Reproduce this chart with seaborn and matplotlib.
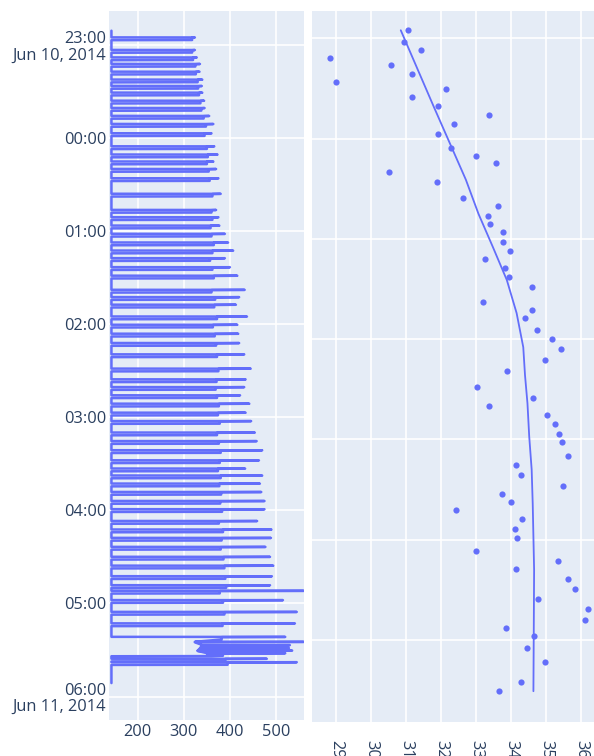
import numpy as np
import pandas as pd
import matplotlib
matplotlib.use("Agg")
import matplotlib.pyplot as plt
import matplotlib.dates as mdates
import seaborn as sns

# ---------------- left panel: zig-zag power trace over the night ----------------
T0 = pd.Timestamp("2014-06-10 23:00")
trace_start_min = -9.2      # minutes relative to 23:00
trace_end_min = 411.3
base_level = 143

# minute (relative to 23:00) at which each excursion starts
spike_min = [
    -4.9, 3.2, 8.0, 12.2, 17.2, 22.3, 26.4, 30.7, 35.9, 40.6,
    45.7, 50.9, 56.9, 65.3, 70.6, 75.1, 79.9, 85.9, 95.9, 106.3,
    111.0, 116.4, 121.7, 127.3, 132.5, 137.4, 143.2, 148.7, 157.8, 162.5,
    167.4, 175.0, 180.3, 186.1, 192.1, 199.4, 208.6, 215.5, 220.5, 225.8,
    231.2, 237.0, 242.4, 249.8, 255.3, 261.2, 267.7, 273.0, 277.5, 282.7,
    288.1, 293.9, 299.2, 306.8, 312.3, 317.7, 323.5, 329.9, 335.6, 342.4,
    348.2, 351.8, 357.8, 365.4, 372.8, 381.5, 395.6, 397.8,
]
# peak value of each excursion
spike_peak = [
    324, 324, 328, 335, 334, 340, 339, 340, 344, 345,
    355, 364, 360, 366, 373, 364, 370, 375, 380, 370,
    375, 377, 389, 396, 407, 389, 400, 416, 432, 420,
    413, 437, 416, 418, 420, 431, 445, 434, 431, 422,
    442, 434, 446, 454, 458, 470, 463, 433, 470, 465,
    468, 475, 475, 459, 490, 489, 477, 487, 494, 491,
    487, 560, 515, 545, 541, 520, 480, 545,
]
# level the trace settles at right after each peak
spike_back = [
    318, 318, 320, 325, 326, 330, 331, 333, 336, 338,
    343, 348, 345, 350, 352, 350, 354, 356, 362, 360,
    362, 358, 360, 365, 362, 357, 362, 365, 360, 368,
    366, 372, 363, 367, 370, 372, 375, 371, 369, 372,
    376, 374, 378, 372, 376, 380, 378, 374, 380, 377,
    381, 379, 383, 376, 385, 382, 380, 386, 388, 390,
    392, 378, 385, 388, 384, 382, 390, 395,
]
# dense burst of swings near the end of the night
burst_min = [384.7, 386.8, 388.7, 390.3, 392.0, 393.6]
burst_low = [324, 340, 335, 330, 350, 360]
burst_high = [560, 530, 528, 535, 520, 385]

hour_ticks = ["2014-06-10 23:00", "2014-06-11 00:00", "2014-06-11 01:00",
              "2014-06-11 02:00", "2014-06-11 03:00", "2014-06-11 04:00",
              "2014-06-11 05:00", "2014-06-11 06:00"]
hour_labels = ["23:00\nJun 10, 2014", "00:00", "01:00", "02:00", "03:00",
               "04:00", "05:00", "06:00\nJun 11, 2014"]
left_xticks = [200, 300, 400, 500]

# ---------------- right panel: samples with smoothed trend ----------------
pt_x = [310.7, 309.4, 314.2, 288.2, 305.6, 311.6, 290.0, 321.3, 311.6, 319.1,
        333.6, 323.6, 319.1, 322.8, 329.9, 335.7, 305.1, 318.9, 326.3, 336.3,
        333.4, 334.1, 337.6, 337.6, 339.8, 332.5, 338.2, 339.5, 345.9, 332.1,
        346.1, 343.9, 347.3, 351.8, 354.3, 349.6, 338.8, 330.4, 346.4, 333.7,
        350.3, 352.7, 353.6, 354.5, 356.3, 341.5, 342.9, 354.9, 337.4, 340.1,
        324.3, 343.2, 341.1, 341.6, 329.9, 353.5, 341.5, 356.4, 358.3, 347.8,
        362.1, 361.2, 338.6, 346.7, 344.7, 349.7, 342.9, 336.6]
pt_y = [-0.08, 0.04, 0.12, 0.20, 0.27, 0.36, 0.44, 0.51, 0.59, 0.68,
        0.76, 0.85, 0.95, 1.09, 1.17, 1.24, 1.33, 1.43, 1.59, 1.67,
        1.77, 1.85, 1.93, 2.03, 2.12, 2.20, 2.29, 2.38, 2.48, 2.63,
        2.71, 2.79, 2.91, 3.00, 3.10, 3.21, 3.32, 3.48, 3.59, 3.67,
        3.76, 3.85, 3.95, 4.03, 4.16, 4.25, 4.35, 4.46, 4.54, 4.62,
        4.70, 4.79, 4.89, 4.98, 5.11, 5.21, 5.29, 5.39, 5.49, 5.59,
        5.69, 5.80, 5.88, 5.96, 6.08, 6.22, 6.42, 6.51]
fit_x = [308.5, 317.9, 327.1, 330.7, 334.8, 338.8, 341.6, 343.5, 344.0,
         344.7, 345.2, 345.9, 346.2, 346.6, 346.5, 346.4]
fit_y = [-0.08, 0.68, 1.41, 1.75, 2.08, 2.41, 2.74, 3.08, 3.36,
         3.64, 3.97, 4.30, 4.64, 5.30, 5.90, 6.51]
right_xticks = [290, 300, 310, 320, 330, 340, 350, 360]

# ---------------- build the trace vertices ----------------
HOLD = 1.7
vx, vt = [base_level], [trace_start_min]
for i, (t, p, b) in enumerate(zip(spike_min, spike_peak, spike_back)):
    vx += [base_level, p, b, b]
    vt += [t, t + 0.05, t + 0.2, t + HOLD]
    nxt = spike_min[i + 1] if i + 1 < len(spike_min) else trace_end_min
    if t < burst_min[0] < nxt:
        for bt, lo, hi in zip(burst_min, burst_low, burst_high):
            vx += [lo, hi, lo]
            vt += [bt, bt + 0.05, bt + 0.3]
        vx.append(base_level)
        vt.append(burst_min[-1] + 0.4)
    else:
        vx.append(base_level)
        vt.append(t + HOLD + 0.1)
vx.append(base_level)
vt.append(trace_end_min)
trace = pd.DataFrame({"value": vx,
                      "time": T0 + pd.to_timedelta(vt, unit="m")})

# ---------------- style ----------------
BG = "#E5ECF6"
LINE = "#636efa"
TXT = "#2a3f5f"
FS = 11.8
sns.set_theme(style="darkgrid", rc={
    "axes.facecolor": BG, "grid.color": "white", "grid.linewidth": 1.2,
    "figure.facecolor": "white", "axes.edgecolor": BG,
    "xtick.color": TXT, "ytick.color": TXT,
})
plt.rcParams["font.family"] = ["Open Sans", "DejaVu Sans"]
plt.rcParams["font.size"] = FS

fig = plt.figure(figsize=(5.94, 7.56), dpi=100)
axL = fig.add_axes([109 / 594, 36 / 756, 195 / 594, 709 / 756])
axR = fig.add_axes([312 / 594, 34 / 756, 282 / 594, 711 / 756])

# left: trace
sns.lineplot(data=trace, x="value", y="time", sort=False, estimator=None,
             color=LINE, linewidth=1.8, ax=axL)
axL.set_xlim(137.7, 560.7)
tick_dt = pd.to_datetime(hour_ticks)
axL.set_yticks(mdates.date2num(tick_dt))
axL.set_yticklabels(hour_labels, fontsize=FS, color=TXT, linespacing=1.05)
top_t = T0 - pd.Timedelta(minutes=21.9)
bot_t = T0 + pd.Timedelta(minutes=435.1)
axL.set_ylim(mdates.date2num(bot_t), mdates.date2num(top_t))
axL.set_xticks(left_xticks)
axL.set_xticklabels([str(v) for v in left_xticks], fontsize=FS, color=TXT)
axL.tick_params(axis="both", length=0)
axL.tick_params(axis="y", pad=2)
axL.tick_params(axis="x", pad=3)
axL.set_xlabel("")
axL.set_ylabel("")

# right: samples and trend
sns.scatterplot(x=pt_x, y=pt_y, color=LINE, s=20, linewidth=0, ax=axR)
sns.lineplot(x=fit_x, y=fit_y, sort=False, estimator=None, color=LINE,
             linewidth=1.3, ax=axR)
axR.set_xlim(283.14, 363.71)
axR.set_ylim(6.817, -0.272)
axR.set_yticks(range(7))
axR.set_yticklabels([])
axR.set_xticks(right_xticks)
axR.set_xticklabels([str(v) for v in right_xticks], rotation=-90,
                    fontsize=FS, color=TXT, ha="center", va="top")
axR.tick_params(axis="both", length=0)
axR.tick_params(axis="x", pad=13)
axR.set_xlabel("")
axR.set_ylabel("")

for ax in (axL, axR):
    for s in ax.spines.values():
        s.set_visible(False)
    ax.set_axisbelow(True)

fig.savefig("out.png", dpi=100)
